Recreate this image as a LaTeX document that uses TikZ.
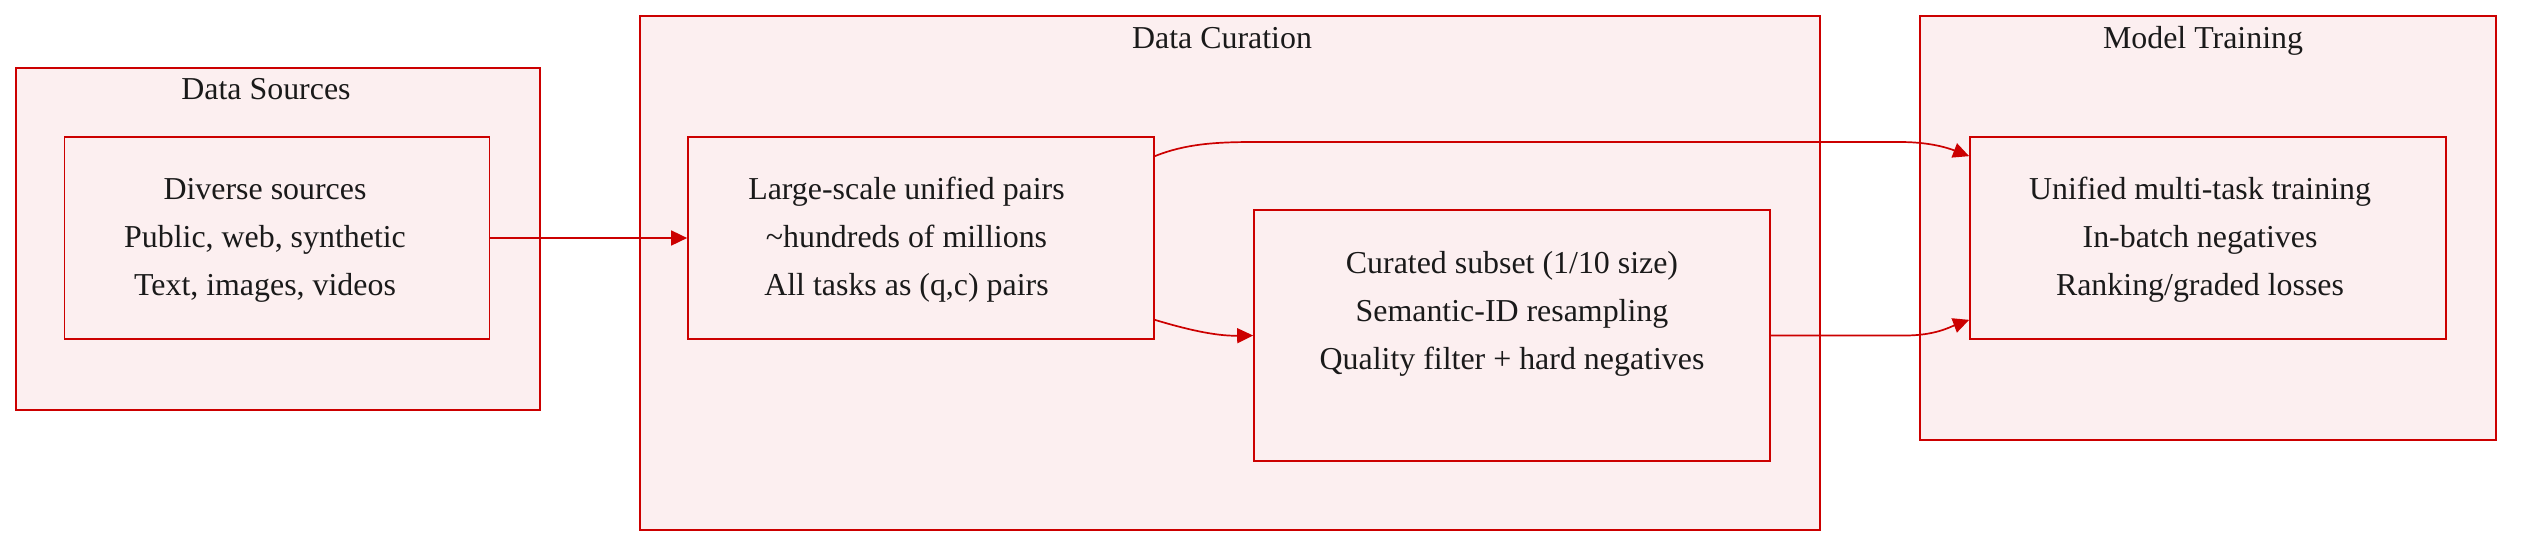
\documentclass[tikz,border=0pt]{standalone}
\usepackage{fontspec}
\setmainfont{Liberation Serif}
\usetikzlibrary{arrows.meta}
\definecolor{edgec}{RGB}{204,0,0}
\definecolor{fillc}{RGB}{252,239,240}
\definecolor{txtc}{RGB}{26,26,26}
\begin{document}
\begin{tikzpicture}[x=1pt,y=-1pt,
  cluster/.style={draw=edgec,fill=fillc,line width=1.7pt,inner sep=0pt},
  box/.style={draw=edgec,fill=fillc,line width=1.7pt,text=txtc,
    font=\fontsize{31.9}{48}\selectfont,inner sep=0pt},
  ttl/.style={text=txtc,font=\fontsize{31.9}{38}\selectfont,inner sep=0pt,anchor=base},
  conn/.style={draw=edgec,line width=1.7pt,-{Triangle[length=16pt,width=15pt]}}]
\useasboundingbox (0,0) rectangle (2528,550);
% clusters
\node[cluster,minimum width=524pt,minimum height=342pt] (ds) at (278,239) {};
\node[cluster,minimum width=1180pt,minimum height=514pt] (dc) at (1230,273) {};
\node[cluster,minimum width=576pt,minimum height=424pt] (mt) at (2208,228) {};
\node[ttl] (dst) at (266,99) {Data Sources};
\node[ttl] (dct) at (1222,48) {Data Curation};
\node[ttl] (mtt) at (2203,48) {Model Training};
% inner nodes
\node[box,minimum width=425pt,minimum height=202pt] (div) at (277,238)
  {\begin{tabular}{@{}c@{}}Diverse sources\\Public, web, synthetic\\Text, images, videos\end{tabular}\kern24pt};
\node[box,minimum width=466pt,minimum height=202pt] (large) at (921,238)
  {\begin{tabular}{@{}c@{}}Large-scale unified pairs\\\textasciitilde hundreds of millions\\All tasks as (q,c) pairs\end{tabular}\kern29pt};
\node[box,minimum width=516pt,minimum height=251pt] (cur) at (1512,335.5)
  {\begin{tabular}{@{}c@{}}Curated subset (1/10 size)\\Semantic-ID resampling\\Quality filter + hard negatives\\\mbox{}\end{tabular}};
\node[box,minimum width=476pt,minimum height=202pt] (uni) at (2208,238)
  {\begin{tabular}{@{}c@{}}Unified multi-task training\\In-batch negatives\\Ranking/graded losses\end{tabular}\kern16pt};
% connectors
\draw[conn] (div.east) -- (large.west);
\draw[conn] ([yshift=-20pt]large.north east) .. controls (1185,144) and (1215,142) .. (1254,142)
  -- (1900,142) .. controls (1930,142) and (1948,148) .. ([yshift=-20pt]uni.north west);
\draw[conn] ([yshift=20pt]large.south east) .. controls (1195,332) and (1220,336) .. (cur.west);
\draw[conn] (cur.east) -- (1905,335.5) .. controls (1935,335.5) and (1950,327) .. ([yshift=20pt]uni.south west);
\end{tikzpicture}
\end{document}
